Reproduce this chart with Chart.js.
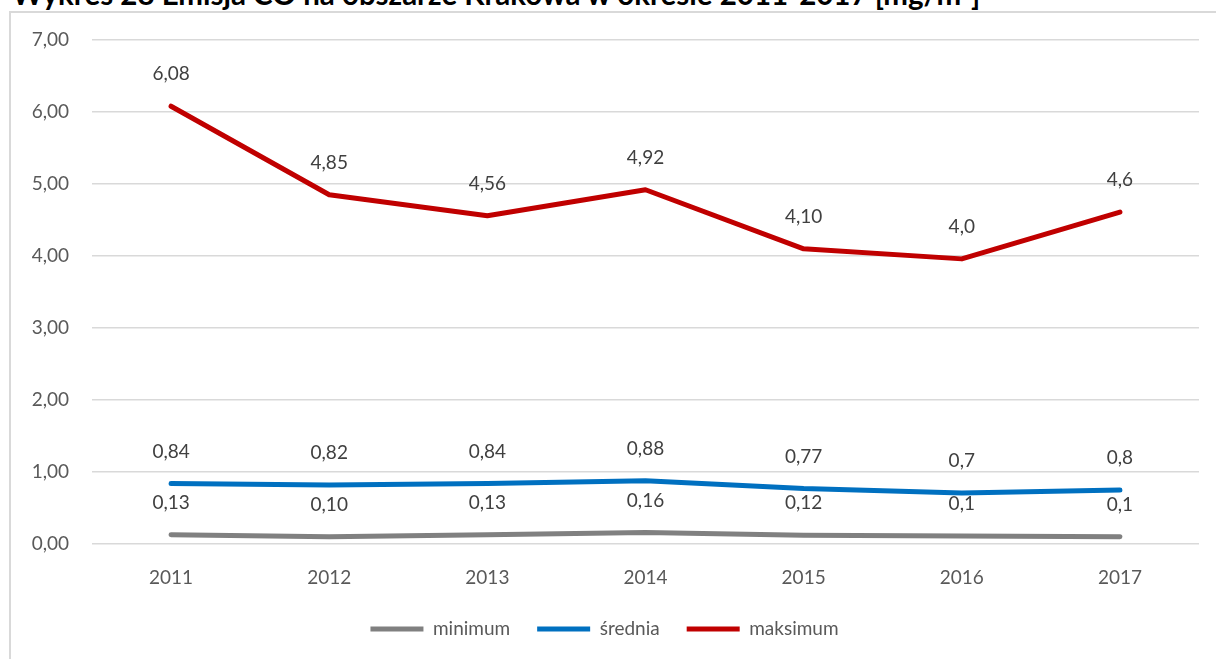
<!DOCTYPE html>
<html>
<head>
<meta charset="utf-8">
<script src="https://cdn.jsdelivr.net/npm/chart.js@4.4.0/dist/chart.umd.min.js"></script>
<style>
  body { margin: 0; background: #fff; overflow: hidden; }
  #title {
    position: absolute; left: 12px; top: -24px;
    font: bold 29.5px Lato, sans-serif; color: #000; white-space: nowrap;
  }
  #box {
    position: absolute; left: 9px; top: 11px; width: 1220px; height: 700px;
    border: 2px solid #d9d9d9; box-sizing: border-box;
  }
  #wrap { position: absolute; left: 10px; top: 12px; width: 1200px; height: 646px; }
</style>
</head>
<body>
<div id="title">Wykres 28 Emisja CO na obszarze Krakowa w okresie 2011-2017 [mg/m³]</div>
<div id="box"></div>
<div id="wrap"><canvas id="myChart"></canvas></div>
<script>
const years = ['2011', '2012', '2013', '2014', '2015', '2016', '2017'];
const yTickLabels = ['0,00', '1,00', '2,00', '3,00', '4,00', '5,00', '6,00', '7,00'];

const minimum = [0.13, 0.10, 0.13, 0.16, 0.12, 0.11, 0.10];
const srednia = [0.84, 0.82, 0.84, 0.88, 0.77, 0.71, 0.75];
const maksimum = [6.08, 4.85, 4.56, 4.92, 4.10, 3.96, 4.61];

const minimumLabels = ['0,13', '0,10', '0,13', '0,16', '0,12', '0,1', '0,1'];
const sredniaLabels = ['0,84', '0,82', '0,84', '0,88', '0,77', '0,7', '0,8'];
const maksimumLabels = ['6,08', '4,85', '4,56', '4,92', '4,10', '4,0', '4,6'];

Chart.defaults.font.family = 'Lato, sans-serif';
Chart.defaults.font.size = 19;
Chart.defaults.color = '#595959';

// labels over the points, like the excel data labels
const pointLabels = {
  id: 'pointLabels',
  afterDatasetsDraw(chart) {
    const ctx = chart.ctx;
    ctx.save();
    ctx.font = '19px Lato, sans-serif';
    ctx.fillStyle = '#404040';
    ctx.textAlign = 'center';
    ctx.textBaseline = 'middle';
    chart.data.datasets.forEach((ds, i) => {
      const meta = chart.getDatasetMeta(i);
      meta.data.forEach((pt, j) => {
        ctx.fillText(ds.pointLabels[j], pt.x, pt.y - 32);
      });
    });
    ctx.restore();
  }
};

const line = (label, data, texts, color) => ({
  label: label,
  data: data,
  pointLabels: texts,
  borderColor: color,
  backgroundColor: color,
  borderWidth: 5,
  borderCapStyle: 'round',
  borderJoinStyle: 'round',
  pointRadius: 0,
  tension: 0
});

new Chart(document.getElementById('myChart'), {
  type: 'line',
  data: {
    labels: years,
    datasets: [
      line('minimum', minimum, minimumLabels, '#808080'),
      line('średnia', srednia, sredniaLabels, '#0070c0'),
      line('maksimum', maksimum, maksimumLabels, '#c00000')
    ]
  },
  options: {
    responsive: true,
    maintainAspectRatio: false,
    animation: false,
    layout: { padding: { left: 0, right: 11, top: 28, bottom: 9.5 } },
    plugins: {
      tooltip: { enabled: false },
      legend: {
        position: 'bottom',
        labels: {
          usePointStyle: true,
          pointStyle: 'line',
          pointStyleWidth: 53,
          padding: 27,
          color: '#595959',
          font: { size: 19 }
        }
      }
    },
    scales: {
      x: {
        offset: true,
        grid: { display: false, drawTicks: false },
        border: { display: false },
        ticks: { padding: 22, color: '#595959' },
        afterFit: (scale) => { scale.height = 48.5; }
      },
      y: {
        min: 0,
        max: 7,
        grid: { color: '#d9d9d9', lineWidth: 1.5, drawTicks: false, tickLength: 0 },
        border: { display: false },
        ticks: {
          stepSize: 1,
          padding: 23,
          color: '#595959',
          callback: (v, i) => yTickLabels[i]
        },
        afterFit: (scale) => {
          scale.width = 82;
          scale.paddingTop = 0;
          scale.paddingBottom = 0;
        }
      }
    }
  },
  plugins: [pointLabels]
});
</script>
</body>
</html>
